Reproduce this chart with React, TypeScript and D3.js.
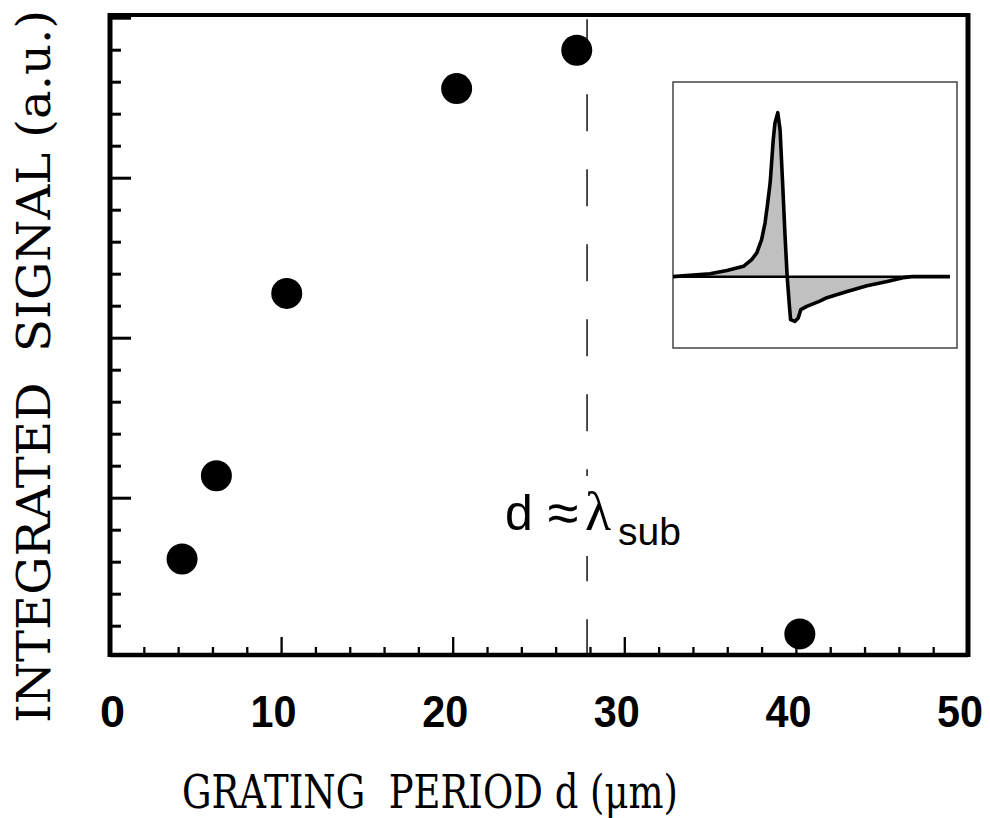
import * as d3 from 'd3';

// Main data: integrated signal vs grating period
const periods = [4.2, 6.2, 10.3, 20.2, 27.2, 40.2];
const signals = [3.1, 5.7, 11.4, 17.8, 19.0, 0.76];

// Vertical marker d ≈ λ_sub
const lambdaSub = 27.8;

// Inset trace (time in arbitrary units, signal normalised to the peak)
const insetTime = [
  0, 13.0, 19.0, 24.8, 27.7, 29.5, 31.2, 32.4, 33.2, 34.2, 34.8, 35.3, 35.9, 36.9,
  37.7, 38.6, 39.4, 40.2, 41.0, 41.4, 42.9, 44.1, 45.0, 47.1, 51.5, 54.2, 61.3,
  68.3, 75.4, 81.0, 84.2, 97.5,
];
const insetSignal = [
  0, 0.018, 0.037, 0.063, 0.104, 0.145, 0.226, 0.327, 0.429, 0.571, 0.713, 0.835,
  0.937, 1.0, 0.896, 0.571, 0.266, 0, -0.181, -0.262, -0.273, -0.252, -0.201,
  -0.181, -0.151, -0.128, -0.091, -0.055, -0.03, -0.006, 0, 0,
];

const xMajor = [0, 10, 20, 30, 40, 50];
const xMinor = d3.range(0, 51, 2);
const yTicks = d3.range(1, 21);

const W = 990;
const H = 818;
const plot = { left: 110, right: 968, top: 15, bottom: 655 };
const inset = { left: 673, right: 957, top: 82, bottom: 348 };

const serif = 'DejaVu Serif, Century Schoolbook, serif';
const sans = 'Liberation Sans, Arial, sans-serif';

export default function App() {
  const x = d3.scaleLinear().domain([0, 50]).range([plot.left, plot.right]);
  const y = d3.scaleLinear().domain([0.1, 20.1]).range([plot.bottom, plot.top]);

  const tx = d3.scaleLinear().domain([0, 100]).range([inset.left, inset.right]);
  const sy = d3.scaleLinear().domain([-0.435, 1.187]).range([inset.bottom, inset.top]);

  const insetPts = insetTime.map((t, i) => [t, insetSignal[i]] as [number, number]);
  const area = d3
    .area<[number, number]>()
    .x((d) => tx(d[0]))
    .y0(sy(0))
    .y1((d) => sy(d[1]));
  const line = d3
    .line<[number, number]>()
    .x((d) => tx(d[0]))
    .y((d) => sy(d[1]));

  const lx = x(lambdaSub);

  return (
    <svg
      width={W}
      height={H}
      style={{ position: 'absolute', left: 0, top: 0, background: '#fff' }}
    >
      {/* Dashed line at d = lambda_sub */}
      <line
        x1={lx}
        x2={lx}
        y1={plot.top}
        y2={plot.bottom}
        stroke="#000"
        strokeWidth={1.4}
        strokeDasharray="37 38"
        strokeDashoffset={70.7}
      />
      <rect x={500} y={476} width={185} height={80} fill="#fff" />

      {/* Label d ≈ λsub */}
      <g fill="#000">
        <text x={505} y={530} fontFamily={sans} fontSize={50}>
          d
        </text>
        <text x={563} y={532} textAnchor="middle" fontFamily={sans} fontSize={56}>
          ≈
        </text>
        <text
          x={598}
          y={530}
          textAnchor="middle"
          fontFamily="Liberation Serif, Times New Roman, serif"
          fontSize={54}
        >
          λ
        </text>
        <text x={618} y={545} fontFamily={sans} fontSize={39}>
          sub
        </text>
      </g>

      {/* Data points */}
      {periods.map((p, i) => (
        <circle key={i} cx={x(p)} cy={y(signals[i])} r={15.5} fill="#000" />
      ))}

      {/* Inset */}
      <g>
        <rect
          x={inset.left}
          y={inset.top}
          width={inset.right - inset.left}
          height={inset.bottom - inset.top}
          fill="#fff"
          stroke="#444"
          strokeWidth={1.5}
        />
        <path d={area(insetPts) ?? ''} fill="#c0c0c0" />
        <line
          x1={tx(0)}
          x2={tx(97.5)}
          y1={sy(0)}
          y2={sy(0)}
          stroke="#000"
          strokeWidth={2.5}
        />
        <path
          d={line(insetPts) ?? ''}
          fill="none"
          stroke="#000"
          strokeWidth={3.6}
          strokeLinejoin="round"
        />
      </g>

      {/* X ticks */}
      {xMinor.map((v) => {
        const major = v % 10 === 0;
        return (
          <line
            key={`xt-${v}`}
            x1={x(v)}
            x2={x(v)}
            y1={plot.bottom}
            y2={plot.bottom - (major ? 18 : 8)}
            stroke="#000"
            strokeWidth={2.3}
          />
        );
      })}

      {/* Y ticks */}
      {yTicks.map((v) => {
        const major = v % 5 === 0;
        return (
          <line
            key={`yt-${v}`}
            x1={plot.left}
            x2={plot.left + (major ? 21 : 11)}
            y1={y(v)}
            y2={y(v)}
            stroke="#000"
            strokeWidth={3}
          />
        );
      })}

      {/* Frame */}
      <line x1={plot.left} x2={plot.right} y1={plot.top} y2={plot.top} stroke="#000" strokeWidth={4} />
      <line x1={plot.left} x2={plot.right} y1={plot.bottom} y2={plot.bottom} stroke="#000" strokeWidth={4.5} />
      <line x1={plot.left} x2={plot.left} y1={plot.top - 2} y2={plot.bottom + 2} stroke="#000" strokeWidth={5} />
      <line x1={plot.right} x2={plot.right} y1={plot.top - 2} y2={plot.bottom + 2} stroke="#000" strokeWidth={5} />

      {/* X tick labels */}
      {xMajor.map((v) => (
        <text
          key={`xl-${v}`}
          x={x(v) + 15}
          y={727}
          textAnchor="end"
          fontFamily={sans}
          fontWeight="bold"
          fontSize={45}
          textLength={v === 0 ? 25 : 46}
          lengthAdjust="spacingAndGlyphs"
          fill="#000"
        >
          {v}
        </text>
      ))}

      {/* Axis titles */}
      <text
        x={182}
        y={808}
        fontFamily={serif}
        fontSize={47}
        textLength={496}
        lengthAdjust="spacingAndGlyphs"
        style={{ whiteSpace: 'pre' }}
        fill="#000"
      >
        GRATING  PERIOD d (μm)
      </text>
      <text
        transform="translate(50, 723) rotate(-90)"
        x={0}
        y={0}
        fontFamily={serif}
        fontSize={47}
        textLength={713}
        lengthAdjust="spacingAndGlyphs"
        style={{ whiteSpace: 'pre' }}
        fill="#000"
      >
        INTEGRATED  SIGNAL (a.u.)
      </text>
    </svg>
  );
}
